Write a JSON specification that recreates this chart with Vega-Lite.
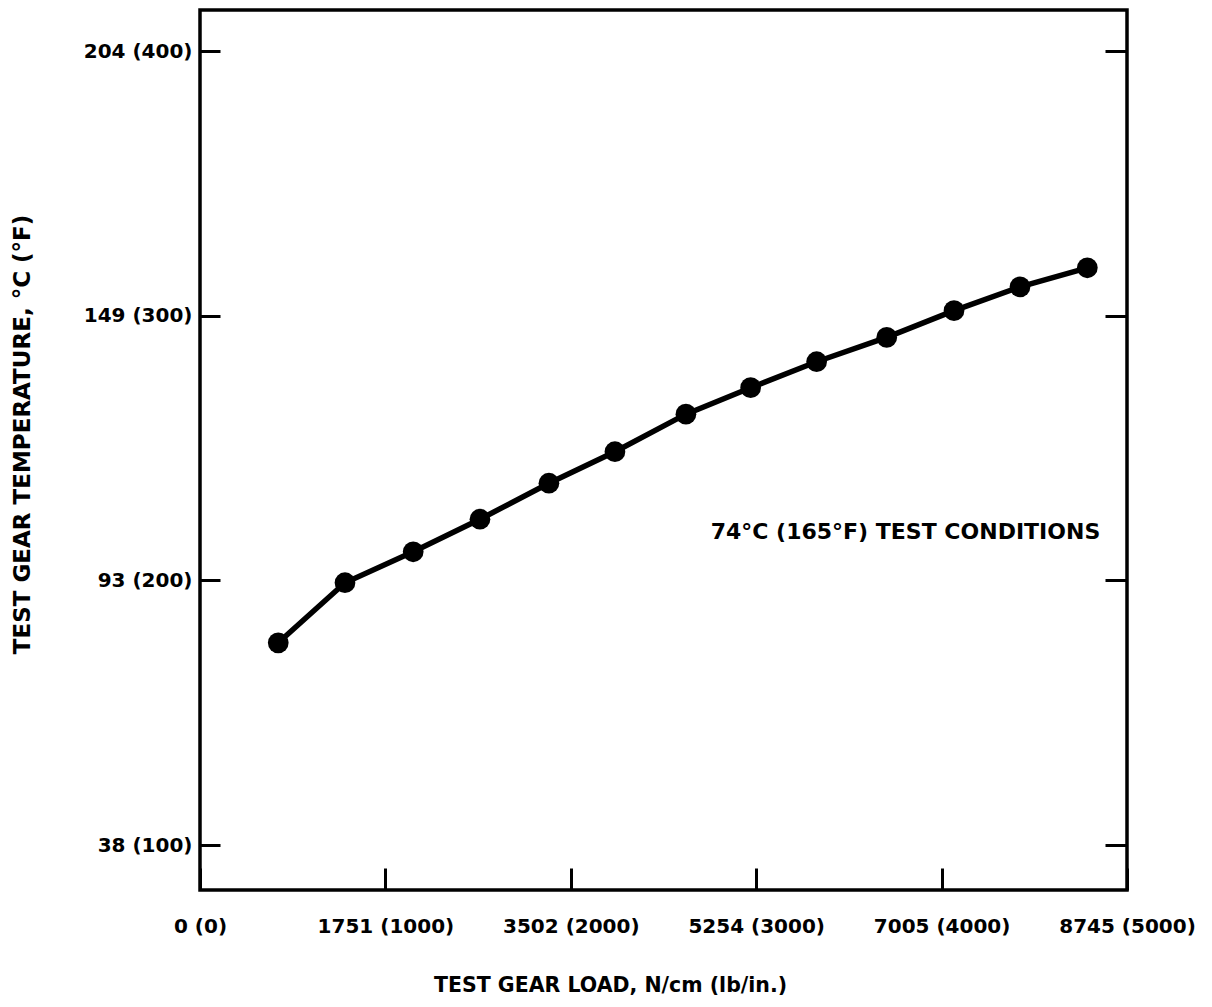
{
  "$schema": "https://vega.github.io/schema/vega-lite/v6.json",
  "width": 927,
  "height": 880,
  "autosize": {"type": "none"},
  "padding": {"left": 200, "top": 10, "right": 85, "bottom": 117},
  "background": "white",
  "config": {
    "view": {"stroke": "black", "strokeWidth": 3.5},
    "axis": {
      "domain": false,
      "grid": false,
      "labelFont": "DejaVu Sans",
      "labelFontWeight": "bold",
      "labelFontSize": 20,
      "labelColor": "black",
      "titleFont": "DejaVu Sans",
      "titleFontWeight": "bold",
      "titleFontSize": 20.5,
      "titleColor": "black",
      "tickColor": "black",
      "tickWidth": 3
    }
  },
  "datasets": {
    "points": [
      {"load": 422, "temp": 176.4},
      {"load": 782, "temp": 199.1},
      {"load": 1150, "temp": 210.8},
      {"load": 1510, "temp": 223.1},
      {"load": 1882, "temp": 236.7},
      {"load": 2238, "temp": 248.6},
      {"load": 2621, "temp": 262.8},
      {"load": 2970, "temp": 272.8},
      {"load": 3326, "temp": 282.6},
      {"load": 3704, "temp": 291.8},
      {"load": 4067, "temp": 301.9},
      {"load": 4423, "temp": 310.9},
      {"load": 4786, "temp": 318.1}
    ],
    "notes": [
      {"load": 3805, "temp": 218.3, "label": "74°C (165°F) TEST CONDITIONS"}
    ]
  },
  "resolve": {"axis": {"y": "independent"}},
  "layer": [
    {
      "data": {"name": "points"},
      "mark": {"type": "line", "color": "black", "strokeWidth": 5.5},
      "encoding": {
        "x": {
          "field": "load",
          "type": "quantitative",
          "scale": {"domain": [0, 5000], "nice": false, "zero": false},
          "axis": {
            "orient": "bottom",
            "values": [0, 1000, 2000, 3000, 4000, 5000],
            "tickSize": -22,
            "labelPadding": 48,
            "labelAlign": "center",
            "labelFlush": false,
            "labelExpr": "datum.value == 0 ? '0 (0)' : datum.value == 1000 ? '1751 (1000)' : datum.value == 2000 ? '3502 (2000)' : datum.value == 3000 ? '5254 (3000)' : datum.value == 4000 ? '7005 (4000)' : '8745 (5000)'",
            "title": "TEST GEAR LOAD, N/cm (lb/in.)",
            "titleX": 410,
            "titleY": 95,
            "titleBaseline": "middle",
            "titleAlign": "center"
          }
        },
        "y": {
          "field": "temp",
          "type": "quantitative",
          "scale": {"domain": [83, 415.5], "nice": false, "zero": false},
          "axis": {
            "orient": "left",
            "values": [100, 200, 300, 400],
            "tickSize": -20,
            "labelPadding": 28,
            "labelBaseline": "middle",
            "labelExpr": "datum.value == 100 ? '38 (100)' : datum.value == 200 ? '93 (200)' : datum.value == 300 ? '149 (300)' : '204 (400)'",
            "title": "TEST GEAR TEMPERATURE, °C (°F)",
            "titleFontSize": 23,
            "titleAngle": -90,
            "titleX": -178,
            "titleY": 424,
            "titleBaseline": "middle",
            "titleAlign": "center"
          }
        }
      }
    },
    {
      "data": {"name": "points"},
      "mark": {"type": "point", "shape": "circle", "filled": true, "color": "black", "opacity": 1, "size": 430},
      "encoding": {
        "x": {"field": "load", "type": "quantitative"},
        "y": {
          "field": "temp",
          "type": "quantitative",
          "axis": {
            "orient": "right",
            "values": [100, 200, 300, 400],
            "tickSize": -22,
            "labels": false,
            "title": null
          }
        }
      }
    },
    {
      "data": {"name": "notes"},
      "mark": {"type": "text", "font": "DejaVu Sans", "fontWeight": "bold", "fontSize": 22, "color": "black", "align": "center", "baseline": "middle"},
      "encoding": {
        "x": {"field": "load", "type": "quantitative"},
        "y": {"field": "temp", "type": "quantitative", "axis": null},
        "text": {"field": "label"}
      }
    }
  ]
}
